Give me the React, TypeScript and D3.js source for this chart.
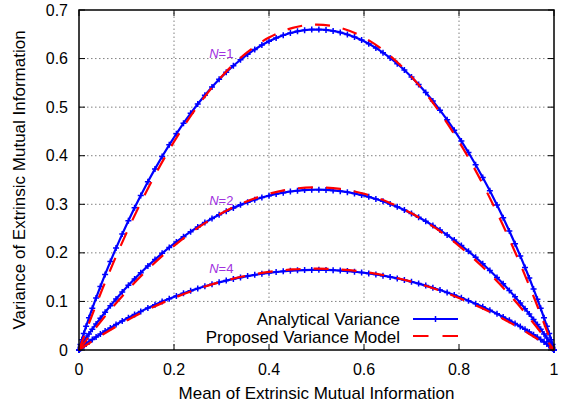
import React from 'react';
import * as d3 from 'd3';

// ---------- data ----------
const xTickValues = [0, 0.2, 0.4, 0.6, 0.8, 1];
const xTickLabels = ['0', '0.2', '0.4', '0.6', '0.8', '1'];
const yTickValues = [0, 0.1, 0.2, 0.3, 0.4, 0.5, 0.6, 0.7];
const yTickLabels = ['0', '0.1', '0.2', '0.3', '0.4', '0.5', '0.6', '0.7'];

// mean of extrinsic MI for the analytical (marker) points
const analyticalX = [
  0, 0.003, 0.006, 0.01, 0.015, 0.021, 0.028, 0.036, 0.045, 0.055, 0.066, 0.078, 0.091, 0.104, 0.117,
  0.13, 0.145, 0.16, 0.175, 0.19, 0.205, 0.22, 0.235, 0.25, 0.265,
  0.28, 0.295, 0.31, 0.325, 0.34, 0.355, 0.37, 0.385, 0.4, 0.415,
  0.43, 0.445, 0.46, 0.475, 0.49, 0.505, 0.52, 0.535, 0.55, 0.565,
  0.58, 0.595, 0.61, 0.625, 0.64, 0.655, 0.67, 0.685, 0.7, 0.715,
  0.73, 0.745, 0.76, 0.775, 0.79, 0.805, 0.82, 0.835, 0.85, 0.865,
  0.88, 0.893, 0.906, 0.918, 0.929, 0.939, 0.948, 0.957, 0.965, 0.972, 0.979, 0.985, 0.99, 0.994, 0.997, 1,
];
const analyticalN1 = [
  0, 0.0113, 0.0212, 0.0338, 0.0489, 0.0663, 0.0858, 0.1073, 0.1306, 0.1556, 0.182, 0.2098, 0.2386, 0.2662, 0.2927,
  0.3182, 0.3462, 0.3729, 0.3983, 0.4224, 0.4452, 0.4669, 0.4873, 0.5065, 0.5246,
  0.5415, 0.5572, 0.5718, 0.5852, 0.5976, 0.6088, 0.6188, 0.6278, 0.6357, 0.6424,
  0.6481, 0.6526, 0.6561, 0.6585, 0.6598, 0.6599, 0.659, 0.657, 0.6539, 0.6497,
  0.6444, 0.638, 0.6306, 0.622, 0.6122, 0.6014, 0.5895, 0.5764, 0.5622, 0.5468,
  0.5303, 0.5127, 0.4938, 0.4738, 0.4526, 0.4301, 0.4065, 0.3815, 0.3552, 0.3277,
  0.2987, 0.2724, 0.2451, 0.2188, 0.1937, 0.1701, 0.1482, 0.1255, 0.1047, 0.0858, 0.0663, 0.0489, 0.0338, 0.0212, 0.0113, 0,
];
const analyticalN2 = [
  0, 0.0056, 0.0106, 0.0169, 0.0245, 0.0331, 0.0429, 0.0536, 0.0653, 0.0778, 0.091, 0.1049, 0.1193, 0.1331, 0.1464,
  0.1591, 0.1731, 0.1864, 0.1991, 0.2112, 0.2226, 0.2334, 0.2436, 0.2533, 0.2623,
  0.2707, 0.2786, 0.2859, 0.2926, 0.2988, 0.3044, 0.3094, 0.3139, 0.3178, 0.3212,
  0.324, 0.3263, 0.3281, 0.3292, 0.3299, 0.33, 0.3295, 0.3285, 0.327, 0.3249,
  0.3222, 0.319, 0.3153, 0.311, 0.3061, 0.3007, 0.2947, 0.2882, 0.2811, 0.2734,
  0.2652, 0.2563, 0.2469, 0.2369, 0.2263, 0.2151, 0.2032, 0.1907, 0.1776, 0.1638,
  0.1493, 0.1362, 0.1225, 0.1094, 0.0969, 0.0851, 0.0741, 0.0628, 0.0523, 0.0429, 0.0331, 0.0245, 0.0169, 0.0106, 0.0056, 0,
];
const analyticalN4 = [
  0, 0.0028, 0.0053, 0.0085, 0.0122, 0.0166, 0.0215, 0.0268, 0.0327, 0.0389, 0.0455, 0.0524, 0.0597, 0.0666, 0.0732,
  0.0795, 0.0865, 0.0932, 0.0996, 0.1056, 0.1113, 0.1167, 0.1218, 0.1266, 0.1311,
  0.1354, 0.1393, 0.1429, 0.1463, 0.1494, 0.1522, 0.1547, 0.157, 0.1589, 0.1606,
  0.162, 0.1632, 0.164, 0.1646, 0.1649, 0.165, 0.1648, 0.1643, 0.1635, 0.1624,
  0.1611, 0.1595, 0.1576, 0.1555, 0.1531, 0.1504, 0.1474, 0.1441, 0.1406, 0.1367,
  0.1326, 0.1282, 0.1235, 0.1185, 0.1131, 0.1075, 0.1016, 0.0954, 0.0888, 0.0819,
  0.0747, 0.0681, 0.0613, 0.0547, 0.0484, 0.0425, 0.037, 0.0314, 0.0262, 0.0215, 0.0166, 0.0122, 0.0085, 0.0053, 0.0028, 0,
];

const modelX = [0, 0.025, 0.05, 0.1, 0.15, 0.2, 0.25, 0.3, 0.35, 0.4, 0.45, 0.5, 0.55, 0.6, 0.65, 0.7, 0.75, 0.8, 0.85, 0.9, 0.95, 0.975, 1];
const modelN1 = [0, 0.0653, 0.1273, 0.2412, 0.3417, 0.4288, 0.5025, 0.5628, 0.6097, 0.6432, 0.6633, 0.67, 0.6633, 0.6432, 0.6097, 0.5628, 0.5025, 0.4288, 0.3417, 0.2412, 0.1273, 0.0653, 0];
const modelN2 = [0, 0.0327, 0.0637, 0.1206, 0.1709, 0.2144, 0.2513, 0.2814, 0.3049, 0.3216, 0.3317, 0.335, 0.3317, 0.3216, 0.3049, 0.2814, 0.2513, 0.2144, 0.1709, 0.1206, 0.0637, 0.0327, 0];
const modelN4 = [0, 0.0163, 0.0318, 0.0603, 0.0854, 0.1072, 0.1256, 0.1407, 0.1524, 0.1608, 0.1658, 0.1675, 0.1658, 0.1608, 0.1524, 0.1407, 0.1256, 0.1072, 0.0854, 0.0603, 0.0318, 0.0163, 0];

const curveLabels = ['1', '2', '4'];
const curveLabelPos = [
  { x: 0.274, y: 0.601 },
  { x: 0.274, y: 0.299 },
  { x: 0.274, y: 0.159 },
];
const legendLabels = ['Analytical Variance', 'Proposed Variance Model'];

// ---------- styling ----------
const W = 561;
const H = 405;
const FONT = '"Liberation Sans", Arial, Helvetica, sans-serif';
const BLUE = '#0000ff';
const RED = '#ff0000';
const PURPLE = '#a030e0';

export default function App() {
  const x = d3.scaleLinear().domain([0, 1]).range([79, 554]);
  const y = d3.scaleLinear().domain([0, 0.7]).range([350, 10]);
  const [x0, x1] = x.range();
  const [y0, y1] = y.range();

  const blueLine = d3
    .line<number>()
    .x((_, i) => x(analyticalX[i]))
    .y((d) => y(d));
  const redLine = d3
    .line<number>()
    .x((_, i) => x(modelX[i]))
    .y((d) => y(d))
    .curve(d3.curveMonotoneX);

  const analytical = [analyticalN1, analyticalN2, analyticalN4];
  const model = [modelN1, modelN2, modelN4];
  const marker = 'M-3,0H3M0,-3V3';
  const tickLen = 6;

  return (
    <div style={{ position: 'absolute', left: 0, top: 0 }}>
      <svg width={W} height={H} style={{ display: 'block', background: '#fff' }} fontFamily={FONT}>
        {/* grid */}
        <g stroke="#808080" strokeWidth={1} strokeDasharray="1.5,2.5">
          {xTickValues.slice(1, -1).map((t) => (
            <line key={'gx' + t} x1={x(t)} x2={x(t)} y1={y0} y2={y1} />
          ))}
          {yTickValues.slice(1, -1).map((t) => (
            <line key={'gy' + t} x1={x0} x2={x1} y1={y(t)} y2={y(t)} />
          ))}
        </g>

        {/* opaque key background */}
        <rect x={200} y={304} width={262} height={44} fill="#fff" />

        {/* ticks */}
        <g stroke="#000" strokeWidth={1}>
          {xTickValues.map((t) => (
            <g key={'tx' + t}>
              <line x1={x(t)} x2={x(t)} y1={y0} y2={y0 - tickLen} />
              <line x1={x(t)} x2={x(t)} y1={y1} y2={y1 + tickLen} />
            </g>
          ))}
          {yTickValues.map((t) => (
            <g key={'ty' + t}>
              <line x1={x0} x2={x0 + tickLen} y1={y(t)} y2={y(t)} />
              <line x1={x1} x2={x1 - tickLen} y1={y(t)} y2={y(t)} />
            </g>
          ))}
        </g>

        {/* analytical curves */}
        {analytical.map((vals, k) => (
          <g key={'a' + k}>
            <path d={blueLine(vals) || ''} fill="none" stroke={BLUE} strokeWidth={2.2} />
            <g stroke={BLUE} strokeWidth={1.5} fill="none">
              {vals.map((v, i) => (
                <path key={i} d={marker} transform={`translate(${x(analyticalX[i])},${y(v)})`} />
              ))}
            </g>
          </g>
        ))}

        {/* model curves */}
        {model.map((vals, k) => (
          <path
            key={'m' + k}
            d={redLine(vals) || ''}
            fill="none"
            stroke={RED}
            strokeWidth={2.2}
            strokeDasharray="15,13"
          />
        ))}

        {/* frame */}
        <rect x={x0} y={y1} width={x1 - x0} height={y0 - y1} fill="none" stroke="#000" strokeWidth={1.5} />

        {/* tick labels */}
        <g fontSize={16} fill="#000">
          {xTickValues.map((t, i) => (
            <text key={'lx' + t} x={x(t)} y={375} textAnchor="middle">
              {xTickLabels[i]}
            </text>
          ))}
          {yTickValues.map((t, i) => (
            <text key={'ly' + t} x={68} y={y(t)} dy="0.35em" textAnchor="end">
              {yTickLabels[i]}
            </text>
          ))}
        </g>

        {/* axis titles */}
        <text x={(x0 + x1) / 2} y={399} textAnchor="middle" fontSize={17}>
          Mean of Extrinsic Mutual Information
        </text>
        <text transform={`translate(25,${(y0 + y1) / 2}) rotate(-90)`} textAnchor="middle" fontSize={17}>
          Variance of Extrinsic Mutual Information
        </text>

        {/* curve labels */}
        {curveLabels.map((lab, i) => (
          <text
            key={'cl' + i}
            x={x(curveLabelPos[i].x)}
            y={y(curveLabelPos[i].y)}
            fontSize={13}
            fill={PURPLE}
          >
            <tspan fontStyle="italic">N</tspan>={lab}
          </text>
        ))}

        {/* legend */}
        <g fontSize={17}>
          <text x={400} y={325} textAnchor="end">{legendLabels[0]}</text>
          <text x={400} y={343} textAnchor="end">{legendLabels[1]}</text>
          <line x1={413} x2={458} y1={319} y2={319} stroke={BLUE} strokeWidth={2.2} />
          <path d={marker} transform="translate(435.5,319)" stroke={BLUE} strokeWidth={1.5} />
          <line x1={413} x2={458} y1={336} y2={336} stroke={RED} strokeWidth={2.2} strokeDasharray="15.5,14" />
        </g>
      </svg>
    </div>
  );
}
